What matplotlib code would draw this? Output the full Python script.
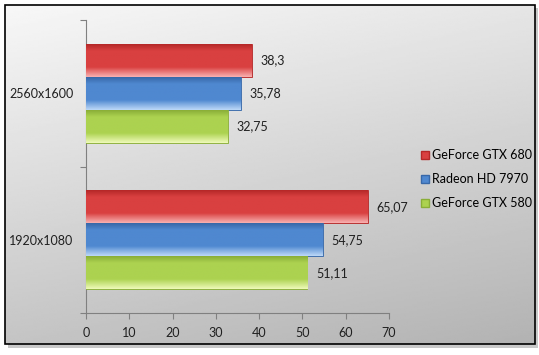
import numpy as np
import matplotlib
matplotlib.use("Agg")
import matplotlib.pyplot as plt
from matplotlib.patches import Rectangle, Patch

resolutions = ["1920x1080", "2560x1600"]
cards = ["GeForce GTX 680", "Radeon HD 7970", "GeForce GTX 580"]
fps = {
    "GeForce GTX 680": [65.07, 38.3],
    "Radeon HD 7970": [54.75, 35.78],
    "GeForce GTX 580": [51.11, 32.75],
}
xticks = [0, 10, 20, 30, 40, 50, 60, 70]

# light / mid / dark shades per card
shades = {
    "GeForce GTX 680": ["#f8b0b0", "#d94040", "#b52828"],
    "Radeon HD 7970": ["#bcd8f8", "#4f88d0", "#3868a8"],
    "GeForce GTX 580": ["#eefab8", "#acd250", "#8aae38"],
}
offsets = [0.225, 0.0, -0.225]
bar_h = 0.225

plt.rcParams['font.family'] = ['Lato', 'DejaVu Sans']
fig = plt.figure(figsize=(5.39, 3.55), dpi=100)

# background with gradient, border and shadow
bg = fig.add_axes([0, 0, 1, 1], zorder=-10)
bg.set_xlim(0, 539)
bg.set_ylim(355, 0)
bg.axis("off")
fig.patch.set_facecolor("white")
yy, xx = np.mgrid[0:1:200j, 0:1:200j]
grad = 0.97 - 0.2 * yy - 0.07 * xx
bg.add_patch(Rectangle((8, 8), 530, 340, facecolor="#c8c8c8", edgecolor="none"))
bg.imshow(grad, cmap="gray", vmin=0, vmax=1, extent=(5, 535, 344, 5), aspect="auto", zorder=1)
bg.add_patch(Rectangle((5, 5), 530, 339, facecolor="none", edgecolor="black", lw=1.2, zorder=2))

ax = fig.add_axes([86 / 539, 42 / 355, 303 / 539, 293 / 355])
ax.patch.set_alpha(0)
y = np.arange(len(resolutions)) + 0.5

vgrad = np.linspace(0, 1, 64).reshape(-1, 1)
for card, off in zip(cards, offsets):
    light, mid, dark = shades[card]
    cmap = matplotlib.colors.LinearSegmentedColormap.from_list(
        card, [(0, light), (0.3, mid), (0.8, mid), (1, dark)])
    bars = ax.barh(y + off, fps[card], height=bar_h, color=mid,
                   edgecolor=dark, lw=0.6, label=card, zorder=3)
    for b, v in zip(bars, fps[card]):
        x0, y0 = b.get_x(), b.get_y()
        w, h = b.get_width(), b.get_height()
        im = ax.imshow(vgrad, cmap=cmap, extent=(x0, x0 + w, y0 + h, y0),
                       aspect="auto", zorder=3.5, origin="upper")
        im.set_clip_path(b)
        ax.text(v + 2, y0 + h / 2, f"{v:g}".replace(".", ","), va="center",
                ha="left", fontsize=9, color="#202020")

ax.set_xlim(0, 70)
ax.set_ylim(0, 2)
ax.set_xticks(xticks)
ax.set_yticks([0, 1, 2])
ax.set_yticks(y, resolutions, minor=True)
ax.set_yticklabels([])
ax.tick_params(axis="y", which="minor", length=0, pad=9, labelsize=9, labelcolor="#202020")
ax.tick_params(axis="y", which="major", length=4, color="#808080")
ax.tick_params(axis="x", length=4, color="#808080", labelsize=9, labelcolor="#202020", pad=6)
for s in ["top", "right"]:
    ax.spines[s].set_visible(False)
for s in ["left", "bottom"]:
    ax.spines[s].set_color("#808080")
    ax.spines[s].set_linewidth(0.8)

handles = [Patch(facecolor=shades[c][1], edgecolor=shades[c][2]) for c in cards]
fig.legend(handles, cards, loc="upper left", bbox_to_anchor=(415 / 539, 1 - 143 / 355),
           frameon=False, fontsize=9, handlelength=0.6, handleheight=0.6,
           handletextpad=0.25, labelspacing=0.95, borderpad=0)

fig.savefig("out.png", dpi=100)
